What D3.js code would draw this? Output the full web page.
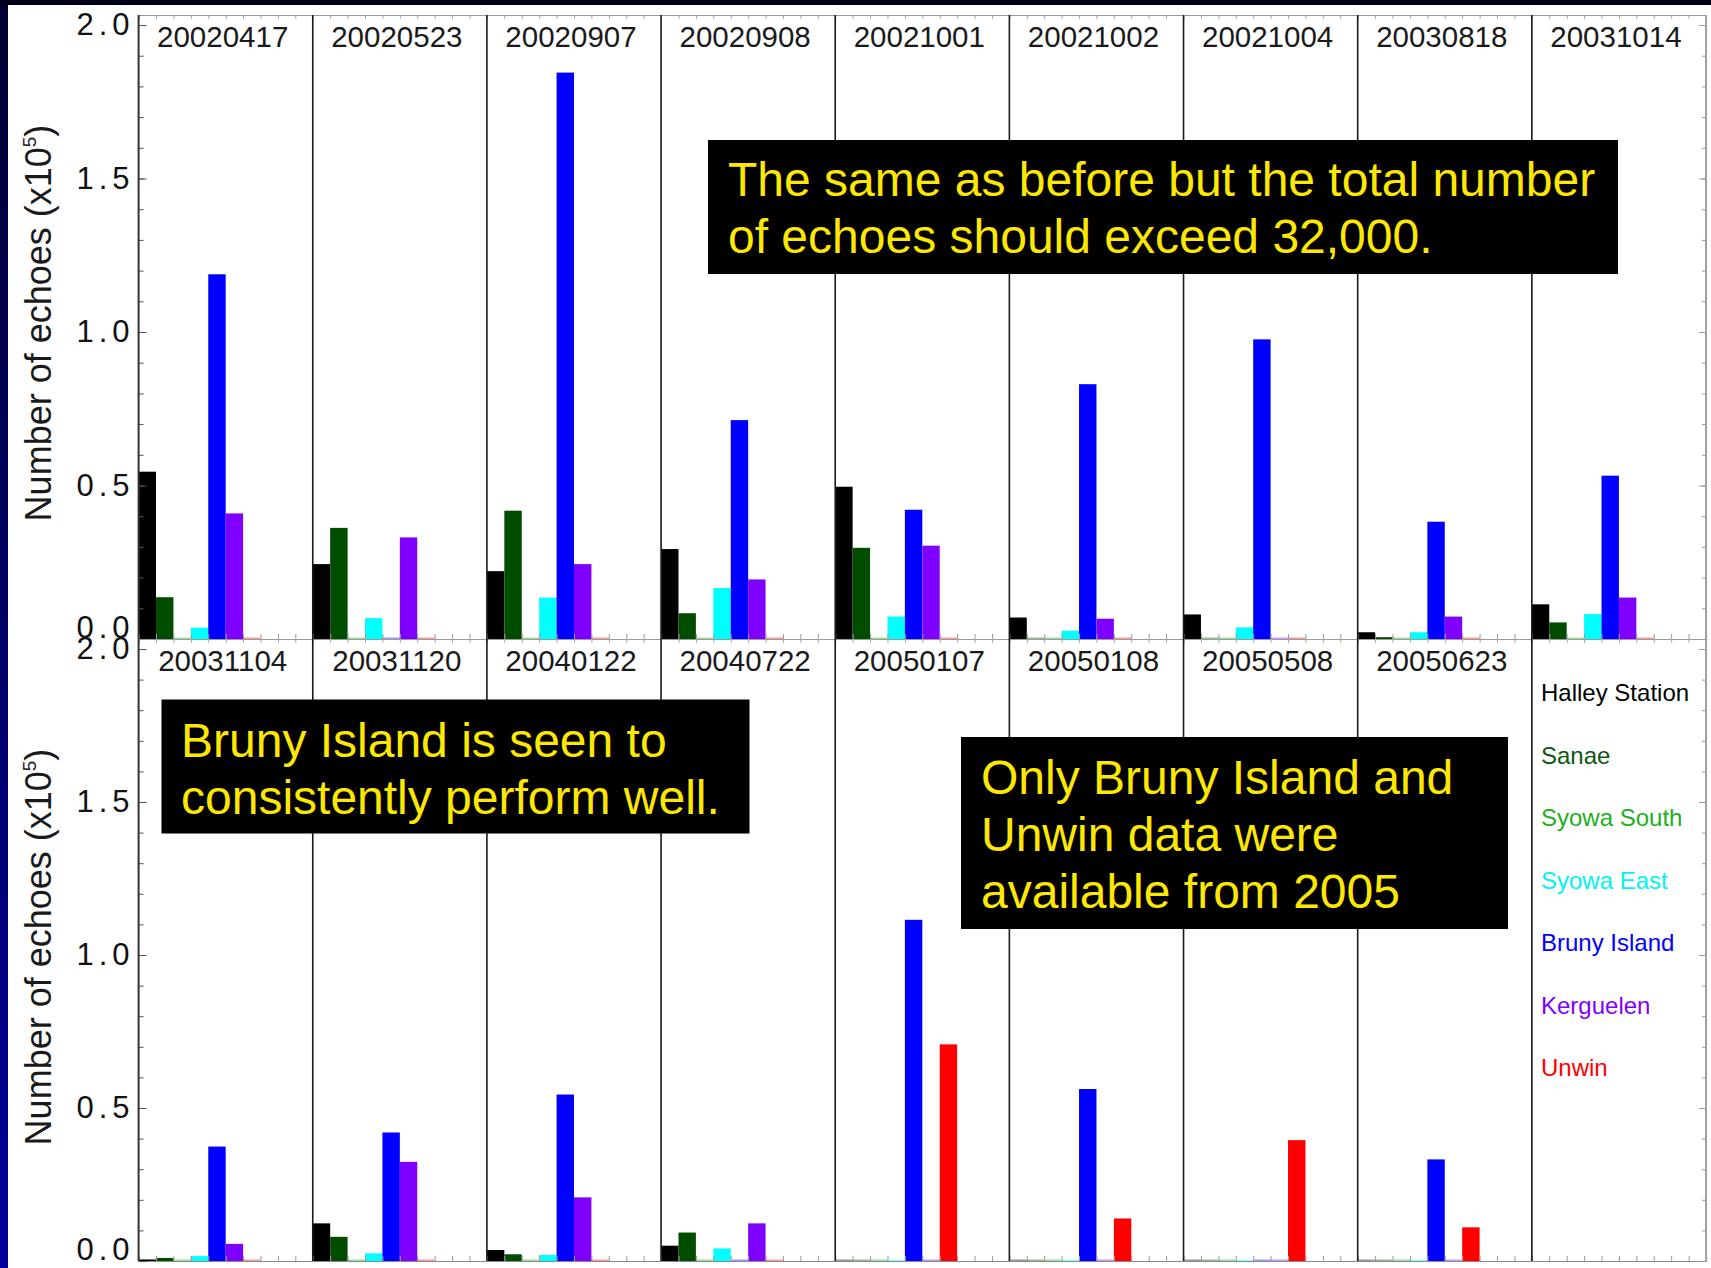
<!DOCTYPE html>
<html>
<head>
<meta charset="utf-8">
<script src="https://cdn.jsdelivr.net/npm/d3@7"></script>
<style>
  html, body { margin: 0; padding: 0; background: #ffffff; overflow: hidden; }
  svg { display: block; }
</style>
</head>
<body>
<svg id="chart" width="1711" height="1268"></svg>
<script>
// Event dates shown in the upper and lower rows of panels
const datesTop = ["20020417", "20020523", "20020907", "20020908", "20021001",
                  "20021002", "20021004", "20030818", "20031014"];
const datesBottom = ["20031104", "20031120", "20040122", "20040722",
                     "20050107", "20050108", "20050508", "20050623"];

// Radar stations, in bar order
const stationNames = ["Halley Station", "Sanae", "Syowa South", "Syowa East",
                      "Bruny Island", "Kerguelen", "Unwin"];

// Number of echoes (x10^5) per station, one value per event (top row then bottom row)
const halley     = [0.545, 0.244, 0.221, 0.293, 0.496, 0.070, 0.080, 0.022, 0.113,
                    0.005, 0.123, 0.036, 0.050, 0, 0, 0, 0];
const sanae      = [0.136, 0.362, 0.418, 0.084, 0.297, 0, 0, 0.006, 0.054,
                    0.010, 0.079, 0.022, 0.093, 0, 0, 0, 0];
const syowaSouth = [0, 0, 0, 0, 0, 0, 0, 0, 0,
                    0, 0, 0, 0, 0, 0, 0, 0];
const syowaEast  = [0.037, 0.068, 0.135, 0.166, 0.073, 0.027, 0.038, 0.022, 0.081,
                    0.016, 0.025, 0.020, 0.041, 0, 0, 0, 0];
const brunyIsland = [1.188, 0, 1.845, 0.713, 0.421, 0.830, 0.976, 0.382, 0.532,
                     0.374, 0.420, 0.544, 0, 1.115, 0.562, 0, 0.332];
const kerguelen  = [0.409, 0.331, 0.244, 0.194, 0.304, 0.066, 0, 0.073, 0.135,
                    0.056, 0.324, 0.208, 0.123, 0, 0, 0, 0];
const unwin      = [0, 0, 0, 0, 0, 0, 0, 0, 0,
                    0, 0, 0, 0, 0.708, 0.139, 0.395, 0.110];

const yTickValues = [0, 0.5, 1.0, 1.5, 2.0];

// Annotation texts
const noteTop = ["The same as before but the total number", "of echoes should exceed 32,000."];
const noteBruny = ["Bruny Island is seen to", "consistently perform well."];
const note2005 = ["Only Bruny Island and", "Unwin data were", "available from 2005"];

// ---------------------------------------------------------------------------
const series = [halley, sanae, syowaSouth, syowaEast, brunyIsland, kerguelen, unwin];
const barColors = ["#000000", "#004d00", "#00b000", "#00ffff", "#0000ff", "#7f00ff", "#ff0000"];
const legendColors = ["#000000", "#0f560f", "#20b020", "#00f4f4", "#0000ff", "#8000ff", "#ff0000"];
const FONT = "'Liberation Sans', Arial, Helvetica, sans-serif";

const W = 1711, H = 1268;
const svg = d3.select("#chart");

// Slide background: dark band along the top, blue band down the left
const defs = svg.append("defs");
const grad = defs.append("linearGradient").attr("id", "leftBand")
  .attr("x1", 0).attr("y1", 0).attr("x2", 0).attr("y2", 1);
grad.append("stop").attr("offset", "0%").attr("stop-color", "#000030");
grad.append("stop").attr("offset", "100%").attr("stop-color", "#00009c");

svg.append("rect").attr("width", W).attr("height", H).attr("fill", "#ffffff");
svg.append("rect").attr("x", 0).attr("y", 0).attr("width", 8).attr("height", H).attr("fill", "url(#leftBand)");
svg.append("rect").attr("x", 0).attr("y", 0).attr("width", W).attr("height", 5).attr("fill", "#00001a");

const plotLeft = 138.6, plotRight = 1706;
const xCol = d3.scaleBand().domain(d3.range(9)).range([plotLeft, plotRight]);
const xSlot = d3.scaleBand().domain(d3.range(10)).range([0, xCol.bandwidth()]);
const xLin = d3.scaleLinear().domain([0, 90]).range([plotLeft, plotRight]);

const panels = [
  { dates: datesTop, offset: 0, top: 15, y: d3.scaleLinear().domain([0, 2]).range([639, 25]), titleY: 323 },
  { dates: datesBottom, offset: 9, top: 639, y: d3.scaleLinear().domain([0, 2]).range([1261, 649]), titleY: 947 }
];

panels.forEach(p => {
  const g = svg.append("g");
  const y0 = p.y(0);

  // Bars: one group of seven stations per event
  p.dates.forEach((d, c) => {
    series.forEach((vals, s) => {
      const v = vals[p.offset + c];
      const x = xCol(c) + xSlot(s);
      if (v > 0) {
        g.append("rect")
          .attr("x", x).attr("width", xSlot.bandwidth())
          .attr("y", p.y(v)).attr("height", y0 - p.y(v))
          .attr("fill", barColors[s]);
      } else {
        g.append("rect")
          .attr("x", x).attr("width", xSlot.bandwidth())
          .attr("y", y0 - 1.5).attr("height", 2.5)
          .attr("fill", barColors[s]).attr("opacity", 0.4);
      }
    });
  });

  // Baseline with small ticks at every bar slot
  const base = g.append("g").attr("transform", `translate(0,${y0})`)
    .call(d3.axisTop(xLin).tickValues(d3.range(0, 91)).tickSize(5).tickFormat(""));
  base.select(".domain").attr("stroke", "#8a8a8a").attr("stroke-width", 1.2);
  base.selectAll(".tick line").attr("stroke", "#9a9a9a");

  // Upper frame edge with ticks
  const topAx = g.append("g").attr("transform", `translate(0,${p.top})`)
    .call(d3.axisBottom(xLin).tickValues(d3.range(0, 91)).tickSize(4).tickFormat(""));
  topAx.select(".domain").attr("stroke", "#9a9a9a").attr("stroke-width", 1.2);
  topAx.selectAll(".tick line").attr("stroke", "#a8a8a8");

  // Left axis: minor ticks every 0.1, labelled major ticks every 0.5
  const leftMinor = g.append("g").attr("transform", `translate(${plotLeft},0)`)
    .call(d3.axisLeft(p.y).tickValues(d3.range(0, 20.5).map(i => i / 10)).tickSize(-5).tickFormat(""));
  leftMinor.select(".domain").remove();
  leftMinor.selectAll(".tick line").attr("stroke", "#555");

  const leftMajor = g.append("g").attr("transform", `translate(${plotLeft},0)`)
    .call(d3.axisLeft(p.y).tickValues(yTickValues).tickSize(-8).tickPadding(4).tickFormat(d3.format(".1f")));
  leftMajor.select(".domain").remove();
  leftMajor.selectAll(".tick line").attr("stroke", "#555");
  leftMajor.selectAll(".tick text")
    .attr("font-family", FONT).attr("font-size", 31).attr("fill", "#111")
    .attr("letter-spacing", "5px")
    .attr("y", d => d === 0 ? -11 : 0);

  // Right axis ticks
  const rightMinor = g.append("g").attr("transform", `translate(${plotRight},0)`)
    .call(d3.axisRight(p.y).tickValues(d3.range(0, 20.5).map(i => i / 10)).tickSize(-4).tickFormat(""));
  rightMinor.select(".domain").remove();
  rightMinor.selectAll(".tick line").attr("stroke", "#999");
  const rightMajor = g.append("g").attr("transform", `translate(${plotRight},0)`)
    .call(d3.axisRight(p.y).tickValues(yTickValues).tickSize(-7).tickFormat(""));
  rightMajor.select(".domain").remove();
  rightMajor.selectAll(".tick line").attr("stroke", "#999");

  // Left and right frame lines
  g.append("line").attr("x1", plotLeft).attr("x2", plotLeft).attr("y1", p.top).attr("y2", y0)
    .attr("stroke", "#333").attr("stroke-width", 2);
  g.append("line").attr("x1", plotRight).attr("x2", plotRight).attr("y1", p.top).attr("y2", y0)
    .attr("stroke", "#a0a0a0").attr("stroke-width", 2);

  // Separators between events
  g.selectAll(".sep").data(d3.range(1, 9)).join("line")
    .attr("x1", c => xCol(c)).attr("x2", c => xCol(c))
    .attr("y1", p.top).attr("y2", y0)
    .attr("stroke", "#1a1a1a").attr("stroke-width", 1.6);

  // Event date labels
  g.selectAll(".date").data(p.dates).join("text")
    .attr("x", (d, c) => xCol(c) + xCol.bandwidth() / 2 - 3)
    .attr("y", p.top + 22)
    .attr("dy", "0.35em")
    .attr("text-anchor", "middle")
    .attr("font-family", FONT).attr("font-size", 29.5).attr("fill", "#1a1a1a")
    .text(d => d);

  // Axis title
  const title = g.append("text")
    .attr("transform", `translate(51,${p.titleY}) rotate(-90)`)
    .attr("text-anchor", "middle")
    .attr("font-family", FONT).attr("font-size", 36).attr("fill", "#1a1a1a");
  title.append("tspan").text("Number of echoes (x10");
  title.append("tspan").attr("font-size", 19).attr("dy", -15).text("5");
  title.append("tspan").attr("dy", 15).text(")");
});

// Legend in the empty last panel of the lower row
const legendY = d3.scaleLinear().domain([0, 6]).range([693, 1068]);
svg.append("g").selectAll("text").data(stationNames).join("text")
  .attr("x", 1541).attr("y", (d, i) => legendY(i)).attr("dy", "0.35em")
  .attr("font-family", FONT).attr("font-size", 24)
  .attr("fill", (d, i) => legendColors[i])
  .text(d => d);

// Annotation boxes
function note(x, y, w, h, lines, tx, ty0) {
  const g = svg.append("g");
  g.append("rect").attr("x", x).attr("y", y).attr("width", w).attr("height", h).attr("fill", "#000");
  g.selectAll("text").data(lines).join("text")
    .attr("x", tx).attr("y", (d, i) => ty0 + i * 57)
    .attr("font-family", FONT).attr("font-size", 48).attr("fill", "#ffe800")
    .text(d => d);
}
note(708, 140, 910, 134, noteTop, 728, 196);
note(161.5, 699.5, 588, 134, noteBruny, 181, 757);
note(961, 737, 547, 192, note2005, 981, 794);
</script>
</body>
</html>
